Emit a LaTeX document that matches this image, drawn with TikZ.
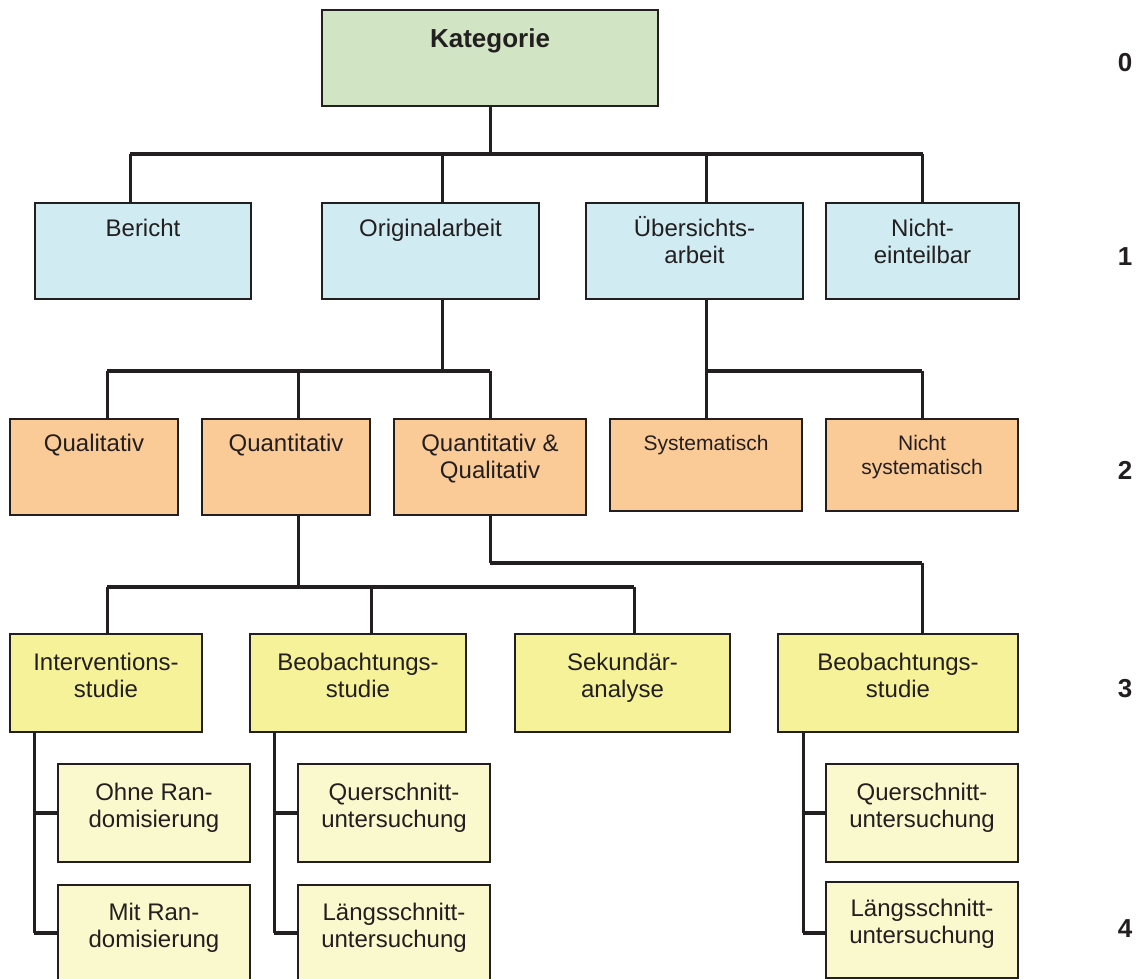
\documentclass[tikz,border=0pt]{standalone}
\usepackage{fontspec}
\setmainfont{Liberation Sans}
\usetikzlibrary{backgrounds}
\definecolor{lc}{RGB}{35,31,32}
\definecolor{cgreen}{RGB}{209,229,196}
\definecolor{cblue}{RGB}{208,236,242}
\definecolor{corange}{RGB}{251,203,151}
\definecolor{cyellow}{RGB}{246,242,154}
\definecolor{clight}{RGB}{250,248,205}
\newcommand\myst{\rule{0pt}{22pt}}
\begin{document}
\begin{tikzpicture}[x=1pt,y=-1pt,
  box/.style={draw=lc, line width=2.6pt, rectangle, inner sep=0pt, outer sep=0pt, anchor=north west},
  txt/.style={anchor=north, inner sep=0pt, align=center, text=lc, font=\fontsize{24}{27}\selectfont},
  stxt/.style={txt, font=\fontsize{21}{24}\selectfont},
  btxt/.style={txt, font=\fontsize{26}{28}\selectfont\bfseries},
  num/.style={inner sep=0pt, text=lc, font=\fontsize{26}{28}\selectfont\bfseries},
  vline/.style={draw=lc, line width=3pt},
  hbar/.style={draw=lc, line width=4.5pt},
]
\useasboundingbox (0,0) rectangle (1145,979);

% level 0
\node[box, fill=cgreen, minimum width=336pt, minimum height=96pt] (kat) at (322,10) {};
% level 1
\node[box, fill=cblue, minimum width=216pt, minimum height=96pt] (ber) at (35,203) {};
\node[box, fill=cblue, minimum width=217pt, minimum height=96pt] (orig) at (322,203) {};
\node[box, fill=cblue, minimum width=217pt, minimum height=96pt] (ueb) at (586,203) {};
\node[box, fill=cblue, minimum width=193pt, minimum height=96pt] (nicht) at (826,203) {};
% level 2
\node[box, fill=corange, minimum width=168pt, minimum height=96pt] (qual) at (10,419) {};
\node[box, fill=corange, minimum width=168pt, minimum height=96pt] (quant) at (202,419) {};
\node[box, fill=corange, minimum width=192pt, minimum height=96pt] (qq) at (394,419) {};
\node[box, fill=corange, minimum width=192pt, minimum height=92pt] (sys) at (610,419) {};
\node[box, fill=corange, minimum width=192pt, minimum height=92pt] (nsys) at (826,419) {};
% level 3
\node[box, fill=cyellow, minimum width=192pt, minimum height=98pt] (int) at (10,634) {};
\node[box, fill=cyellow, minimum width=216pt, minimum height=98pt] (beo) at (250,634) {};
\node[box, fill=cyellow, minimum width=215pt, minimum height=98pt] (sek) at (515,634) {};
\node[box, fill=cyellow, minimum width=240pt, minimum height=98pt] (beo2) at (778,634) {};
% level 4
\node[box, fill=clight, minimum width=192pt, minimum height=98pt] (ohne) at (58,764) {};
\node[box, fill=clight, minimum width=192pt, minimum height=110pt] (mit) at (58,885) {};
\node[box, fill=clight, minimum width=192pt, minimum height=98pt] (quer) at (298,764) {};
\node[box, fill=clight, minimum width=192pt, minimum height=110pt] (laeng) at (298,885) {};
\node[box, fill=clight, minimum width=192pt, minimum height=98pt] (quer2) at (826,764) {};
\node[box, fill=clight, minimum width=192pt, minimum height=96pt] (laeng2) at (826,882) {};

% texts
\node[btxt] (t-kat) at (490,25) {\myst Kategorie};
\node[txt] (t-ber) at (143,214) {\myst Bericht};
\node[txt] (t-orig) at (430.5,214) {\myst Originalarbeit};
\node[txt] (t-ueb) at (694.5,214) {\myst Übersichts-\\arbeit};
\node[txt] (t-nicht) at (922.5,214) {\myst Nicht-\\einteilbar};
\node[txt] (t-qual) at (94,429) {\myst Qualitativ};
\node[txt] (t-quant) at (286,429) {\myst Quantitativ};
\node[txt] (t-qq) at (490,429) {\myst Quantitativ \&\\Qualitativ};
\node[stxt] (t-sys) at (706,428.5) {\myst Systematisch};
\node[stxt] (t-nsys) at (922,428.5) {\myst Nicht\\systematisch};
\node[txt] (t-int) at (106,648) {\myst Interventions-\\studie};
\node[txt] (t-beo) at (358,648) {\myst Beobachtungs-\\studie};
\node[txt] (t-sek) at (622.5,648) {\myst Sekundär-\\analyse};
\node[txt] (t-beo2) at (898,648) {\myst Beobachtungs-\\studie};
\node[txt] (t-ohne) at (154,778) {\myst Ohne Ran-\\domisierung};
\node[txt] (t-quer) at (394,778) {\myst Querschnitt-\\untersuchung};
\node[txt] (t-quer2) at (922,778) {\myst Querschnitt-\\untersuchung};
\node[txt] (t-mit) at (154,898) {\myst Mit Ran-\\domisierung};
\node[txt] (t-laeng) at (394,898) {\myst Längsschnitt-\\untersuchung};
\node[txt] (t-laeng2) at (922,894) {\myst Längsschnitt-\\untersuchung};

% level numbers
\node[num] (n0) at (1125,63) {0};
\node[num] (n1) at (1125,257) {1};
\node[num] (n2) at (1125,470) {2};
\node[num] (n3) at (1125,689) {3};
\node[num] (n4) at (1125,929) {4};

\begin{scope}[on background layer]
% level 0 -> 1
\coordinate (j1) at (kat.south |- 0,154);
\coordinate (d-ber) at ([xshift=-13pt]ber.north);
\coordinate (d-orig) at ([xshift=11.5pt]orig.north);
\coordinate (d-ueb) at ([xshift=11.5pt]ueb.north);
\draw[vline] (kat.south) -- (j1);
\draw[hbar] (d-ber |- j1) -- (nicht.north |- j1);
\draw[vline] (d-ber |- j1) -- (d-ber);
\draw[vline] (d-orig |- j1) -- (d-orig);
\draw[vline] (d-ueb |- j1) -- (d-ueb);
\draw[vline] (nicht.north |- j1) -- (nicht.north);
% level 1 -> 2
\coordinate (s-orig) at ([xshift=11.5pt]orig.south);
\coordinate (j2) at (s-orig |- 0,371);
\coordinate (u-qual) at ([xshift=13pt]qual.north);
\coordinate (u-quant) at ([xshift=12pt]quant.north);
\draw[vline] (s-orig) -- (j2);
\draw[hbar] (u-qual |- j2) -- (qq.north |- j2);
\draw[vline] (u-qual |- j2) -- (u-qual);
\draw[vline] (u-quant |- j2) -- (u-quant);
\draw[vline] (qq.north |- j2) -- (qq.north);
\coordinate (s-ueb) at ([xshift=11.5pt]ueb.south);
\draw[vline] (s-ueb) -- (s-ueb |- sys.north);
\draw[hbar] (s-ueb |- j2) -- (nsys.north |- j2);
\draw[vline] (nsys.north |- j2) -- (nsys.north);
% level 2 -> 3
\coordinate (s-quant) at ([xshift=12pt]quant.south);
\coordinate (j3) at (s-quant |- 0,587);
\coordinate (u-int) at ([xshift=1pt]int.north);
\coordinate (u-beo) at ([xshift=13pt]beo.north);
\coordinate (u-sek) at ([xshift=11.5pt]sek.north);
\draw[vline] (s-quant) -- (j3);
\draw[hbar] (u-int |- j3) -- (u-sek |- j3);
\draw[vline] (u-int |- j3) -- (u-int);
\draw[vline] (u-beo |- j3) -- (u-beo);
\draw[vline] (u-sek |- j3) -- (u-sek);
\coordinate (j4) at (qq.south |- 0,563);
\coordinate (u-beo2) at ([xshift=24pt]beo2.north);
\draw[vline] (qq.south) -- (j4);
\draw[hbar] (j4) -- (u-beo2 |- j4);
\draw[vline] (u-beo2 |- j4) -- (u-beo2);
% level 3 -> 4
\coordinate (s-int) at ([xshift=24pt]int.south west);
\coordinate (b-mit) at ([yshift=7pt]mit.west);
\draw[vline] (s-int) -- (s-int |- b-mit);
\draw[hbar] (s-int |- ohne.west) -- (ohne.west);
\draw[hbar] (s-int |- b-mit) -- (b-mit);
\coordinate (s-beo) at ([xshift=24pt]beo.south west);
\coordinate (b-laeng) at ([yshift=7pt]laeng.west);
\draw[vline] (s-beo) -- (s-beo |- b-laeng);
\draw[hbar] (s-beo |- quer.west) -- (quer.west);
\draw[hbar] (s-beo |- b-laeng) -- (b-laeng);
\coordinate (s-beo2) at ([xshift=25pt]beo2.south west);
\coordinate (b-laeng2) at ([yshift=-3pt]laeng2.west);
\draw[vline] (s-beo2) -- (s-beo2 |- b-laeng2);
\draw[hbar] (s-beo2 |- quer2.west) -- (quer2.west);
\draw[hbar] (s-beo2 |- b-laeng2) -- (b-laeng2);
\end{scope}
\end{tikzpicture}
\end{document}
